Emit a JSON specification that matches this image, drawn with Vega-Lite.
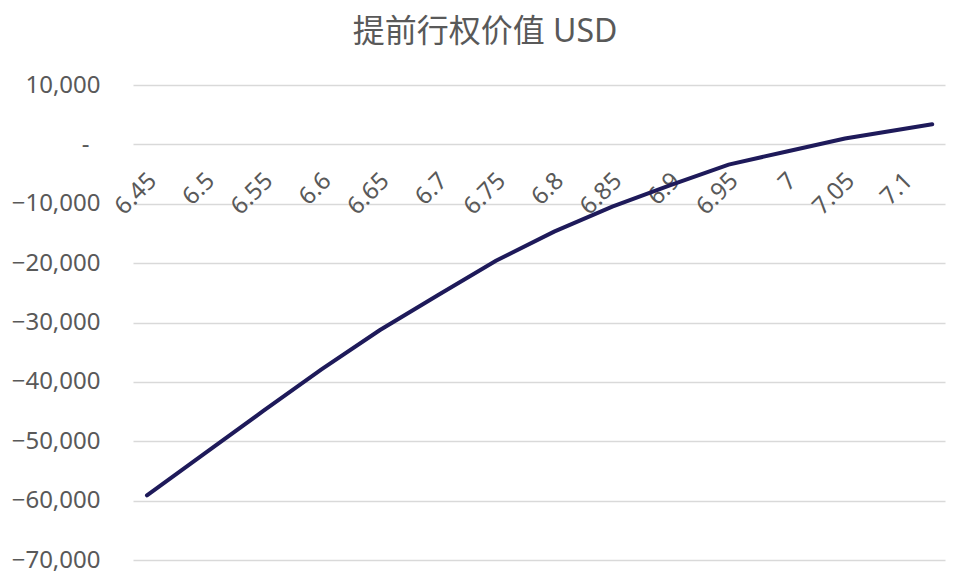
{
  "$schema": "https://vega.github.io/schema/vega-lite/v6.json",
  "autosize": "none",
  "padding": {"left": 133, "top": 85, "right": 14, "bottom": 23},
  "width": 812,
  "height": 475,
  "background": "white",
  "title": {
    "text": "提前行权价值 USD",
    "font": "Noto Sans, Noto Sans CJK SC",
    "fontSize": 32,
    "fontWeight": "normal",
    "color": "#595959",
    "anchor": "middle",
    "dx": -54,
    "baseline": "alphabetic",
    "offset": -1
  },
  "data": {
    "values": [
      {"rate": 6.45, "value": -59100},
      {"rate": 6.5, "value": -52000},
      {"rate": 6.55, "value": -44900},
      {"rate": 6.6, "value": -37900},
      {"rate": 6.65, "value": -31300},
      {"rate": 6.7, "value": -25400},
      {"rate": 6.75, "value": -19600},
      {"rate": 6.8, "value": -14700},
      {"rate": 6.85, "value": -10500},
      {"rate": 6.9, "value": -6850},
      {"rate": 6.95, "value": -3400},
      {"rate": 7.0, "value": -1200},
      {"rate": 7.05, "value": 1000},
      {"rate": 7.1, "value": 2600},
      {"rate": 7.125, "value": 3400}
    ]
  },
  "config": {
    "view": {"stroke": null},
    "axis": {
      "labelFont": "Noto Sans",
      "labelColor": "#595959",
      "labelFontSize": 24,
      "title": null
    }
  },
  "mark": {"type": "line", "color": "#1e1a5a", "strokeWidth": 4, "strokeCap": "round"},
  "encoding": {
    "x": {
      "field": "rate",
      "type": "quantitative",
      "scale": {"domain": [6.438, 7.136], "nice": false, "zero": false},
      "axis": {
        "values": [6.45, 6.5, 6.55, 6.6, 6.65, 6.7, 6.75, 6.8, 6.85, 6.9, 6.95, 7.0, 7.05, 7.1],
        "format": "~g",
        "orient": "bottom",
        "offset": -415.6,
        "grid": false,
        "domain": false,
        "ticks": false,
        "labelAngle": -45,
        "labelAlign": "right",
        "labelBaseline": "top",
        "labelPadding": 24,
        "labelOffset": -3,
        "labelOverlap": false,
        "labelFontSize": 24
      }
    },
    "y": {
      "field": "value",
      "type": "quantitative",
      "scale": {"domain": [-70000, 10000], "nice": false},
      "axis": {
        "values": [-70000, -60000, -50000, -40000, -30000, -20000, -10000, 0, 10000],
        "labelExpr": "datum.value === 0 ? '-' : format(datum.value, ',')",
        "domain": false,
        "ticks": false,
        "grid": true,
        "gridColor": "#d9d9d9",
        "gridWidth": 1.5,
        "labelPadding": {"condition": {"test": "datum.value === 0", "value": 44}, "value": 33}
      }
    }
  }
}
